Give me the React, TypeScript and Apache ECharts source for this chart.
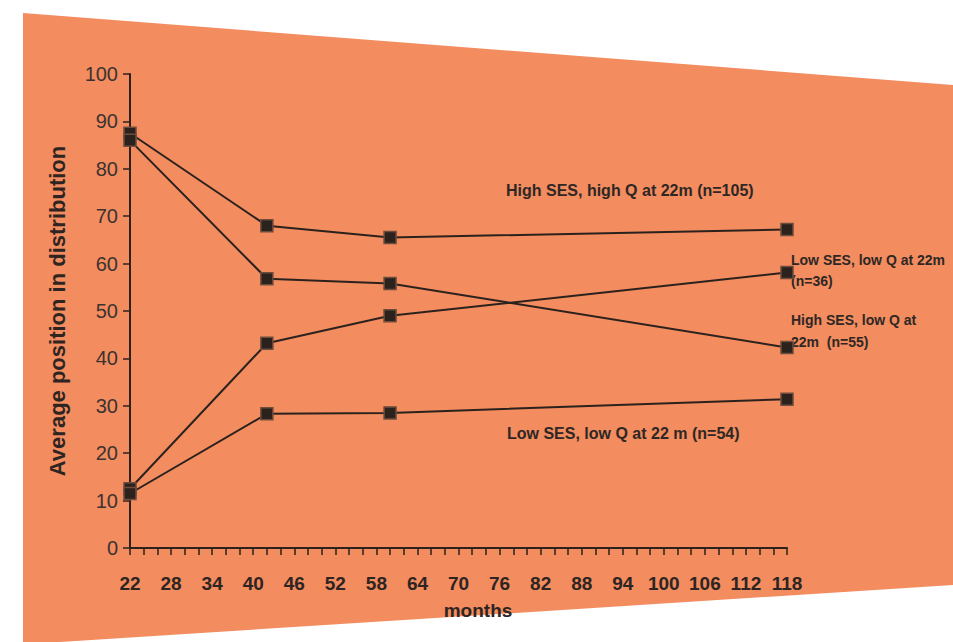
import React, { useEffect, useRef } from "react";
import * as echarts from "echarts";

// Months at which the four groups were measured
const months: number[] = [22, 42, 60, 118];

// Average position in distribution for each group
const highSesHighQ: number[] = [87.5, 68.0, 65.5, 67.2];
const highSesLowQ: number[] = [86.0, 56.8, 55.8, 42.3];
const lowSesLowQ36: number[] = [12.5, 43.2, 49.0, 58.1];
const lowSesLowQ54: number[] = [11.5, 28.3, 28.5, 31.4];

const seriesNames: string[] = [
  "High SES, high Q at 22m (n=105)",
  "High SES, low Q at 22m (n=55)",
  "Low SES, low Q at 22m (n=36)",
  "Low SES, low Q at 22 m (n=54)",
];

const xMin = 22;
const xMax = 118;
const xLabelStep = 6;

const INK = "#2b221e";
const ORANGE = "#F38C5F";
const FONT = "'Liberation Sans', Arial, sans-serif";

export default function App() {
  const ref = useRef<HTMLDivElement | null>(null);

  useEffect(() => {
    if (!ref.current) return;
    const chart = echarts.init(ref.current, undefined, { renderer: "svg" });

    const allValues = [highSesHighQ, highSesLowQ, lowSesLowQ36, lowSesLowQ54];

    const series = allValues.map((vals, i) => ({
      type: "line" as const,
      name: seriesNames[i],
      data: months.map((m, j) => [m, vals[j]]),
      symbol: "rect",
      symbolSize: 12,
      lineStyle: { color: INK, width: 2 },
      itemStyle: { color: INK, borderColor: "#6e4c3c", borderWidth: 1.5 },
      z: 3,
    }));

    const anno = (size: number) => ({
      fill: "#2e2724",
      font: `bold ${size}px ${FONT}`,
      textVerticalAlign: "middle",
    });

    chart.setOption({
      animation: false,
      backgroundColor: "#ffffff",
      grid: { left: 130, right: 166, top: 74, bottom: 94, containLabel: false },
      xAxis: {
        type: "value",
        min: xMin,
        max: xMax,
        interval: 2,
        splitLine: { show: false },
        axisLine: { show: true, onZero: false, lineStyle: { color: INK, width: 2 } },
        axisTick: { show: true, inside: false, length: 7, lineStyle: { color: INK, width: 1.5 } },
        axisLabel: {
          margin: 26,
          color: "#2e2522",
          fontSize: 19,
          fontWeight: "bold",
          fontFamily: FONT,
          hideOverlap: false,
          formatter: (v: number) => ((v - xMin) % xLabelStep === 0 ? String(v) : ""),
        },
      },
      yAxis: {
        type: "value",
        min: 0,
        max: 100,
        interval: 10,
        name: "Average position in distribution",
        nameLocation: "middle",
        nameGap: 62,
        nameTextStyle: {
          color: "#2e2522",
          fontSize: 22,
          fontWeight: "bold",
          fontFamily: FONT,
        },
        splitLine: { show: false },
        axisLine: { show: true, lineStyle: { color: INK, width: 2 } },
        axisTick: { show: true, inside: false, length: 7, lineStyle: { color: INK, width: 1.5 } },
        axisLabel: {
          margin: 12,
          color: "#3b3330",
          fontSize: 20,
          fontFamily: FONT,
        },
      },
      graphic: [
        {
          type: "polygon",
          z: -100,
          silent: true,
          shape: {
            points: [
              [23, 13],
              [953, 85],
              [953, 585],
              [60, 642],
              [23, 642],
            ],
          },
          style: { fill: ORANGE },
        },
        {
          type: "text",
          x: 478,
          y: 610,
          style: {
            text: "months",
            fill: "#2e2522",
            font: `bold 19px ${FONT}`,
            textAlign: "center",
            textVerticalAlign: "middle",
          },
        },
        { type: "text", x: 506, y: 190, style: { ...anno(16), text: "High SES, high Q at 22m (n=105)" } },
        { type: "text", x: 791, y: 260, style: { ...anno(14), text: "Low SES, low Q at 22m" } },
        { type: "text", x: 791, y: 281, style: { ...anno(14), text: "(n=36)" } },
        { type: "text", x: 791, y: 320, style: { ...anno(14), text: "High SES, low Q at" } },
        { type: "text", x: 791, y: 342, style: { ...anno(14), text: "22m  (n=55)" } },
        { type: "text", x: 507, y: 433, style: { ...anno(16), text: "Low SES, low Q at 22 m (n=54)" } },
      ],
      series,
    });

    return () => {
      chart.dispose();
    };
  }, []);

  return (
    <div
      ref={ref}
      style={{ position: "absolute", left: 0, top: 0, width: 953, height: 642 }}
    />
  );
}
